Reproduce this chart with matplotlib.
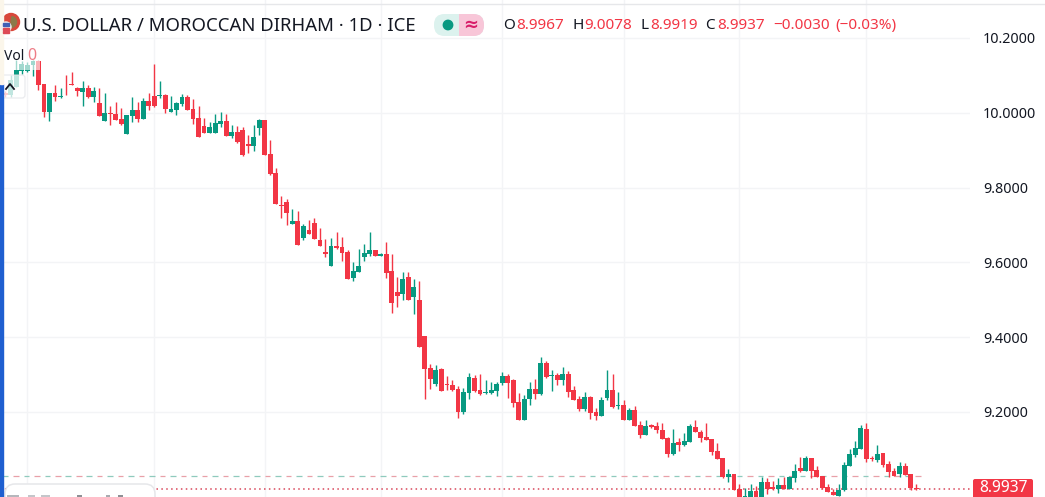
#!/usr/bin/env python3

import matplotlib

matplotlib.use('Agg')

import matplotlib.pyplot as plt
from matplotlib.patches import Circle, FancyBboxPatch, Rectangle, Wedge

W, H = 1045, 497
RED = '#f23645'
GREEN = '#089981'
GRID = '#f3f4f6'
TEXT = '#131722'

# daily candles, oldest first
opens = [10.053, 10.048, 10.070, 10.113, 10.113, 10.128, 10.139, 10.077, 10.003, 10.053,
         10.042, 10.059, 10.077, 10.067, 10.056, 10.066, 10.043, 10.026, 9.979, 9.999,
         9.996, 9.983, 9.944, 9.992, 10.008, 9.984, 10.031, 10.045, 10.045, 10.048,
         10.003, 10.008, 10.024, 10.043, 10.010, 9.985, 9.965, 9.947, 9.947, 9.971,
         9.978, 9.939, 9.948, 9.954, 9.916, 9.910, 9.960, 9.981, 9.890, 9.838,
         9.754, 9.761, 9.703, 9.711, 9.664, 9.687, 9.705, 9.660, 9.627, 9.591,
         9.643, 9.641, 9.628, 9.558, 9.574, 9.615, 9.623, 9.633, 9.617, 9.623,
         9.577, 9.521, 9.516, 9.561, 9.508, 9.500, 9.403, 9.318, 9.275, 9.315,
         9.275, 9.272, 9.262, 9.200, 9.251, 9.291, 9.259, 9.250, 9.251, 9.256,
         9.278, 9.296, 9.286, 9.227, 9.179, 9.235, 9.262, 9.248, 9.331, 9.295,
         9.299, 9.286, 9.302, 9.259, 9.235, 9.208, 9.240, 9.200, 9.189, 9.238,
         9.259, 9.216, 9.219, 9.179, 9.206, 9.165, 9.139, 9.165, 9.163, 9.152,
         9.131, 9.088, 9.120, 9.112, 9.120, 9.160, 9.147, 9.133, 9.128, 9.096,
         9.077, 9.026, 9.034, 8.994, 8.970, 8.962, 8.989, 8.965, 9.013, 8.999,
         8.994, 9.005, 8.994, 9.024, 9.050, 9.042, 9.077, 9.045, 9.029, 9.000,
         8.986, 8.976, 8.991, 9.056, 9.085, 9.101, 9.155, 9.077, 9.072, 9.090,
         9.061, 9.042, 9.034, 9.056, 9.034, 8.9967]
highs = [10.059, 10.101, 10.141, 10.139, 10.137, 10.141, 10.141, 10.078, 10.053, 10.074,
         10.066, 10.101, 10.109, 10.068, 10.085, 10.074, 10.068, 10.066, 10.052, 10.018,
         10.029, 10.012, 9.994, 10.041, 10.030, 10.039, 10.052, 10.130, 10.085, 10.049,
         10.045, 10.030, 10.049, 10.048, 10.037, 10.018, 9.985, 9.975, 9.996, 10.001,
         9.996, 9.967, 9.966, 9.961, 9.941, 9.967, 9.983, 9.982, 9.927, 9.852,
         9.778, 9.770, 9.743, 9.738, 9.703, 9.713, 9.720, 9.693, 9.663, 9.664,
         9.682, 9.669, 9.633, 9.601, 9.636, 9.649, 9.682, 9.634, 9.624, 9.655,
         9.623, 9.562, 9.574, 9.574, 9.556, 9.550, 9.404, 9.328, 9.326, 9.318,
         9.296, 9.286, 9.270, 9.264, 9.304, 9.299, 9.302, 9.286, 9.280, 9.280,
         9.307, 9.302, 9.287, 9.251, 9.246, 9.280, 9.288, 9.347, 9.337, 9.312,
         9.304, 9.320, 9.310, 9.270, 9.243, 9.254, 9.243, 9.211, 9.240, 9.312,
         9.302, 9.254, 9.232, 9.211, 9.216, 9.176, 9.179, 9.167, 9.173, 9.171,
         9.132, 9.155, 9.131, 9.144, 9.168, 9.179, 9.152, 9.171, 9.129, 9.117,
         9.078, 9.048, 9.035, 9.008, 8.997, 9.008, 9.002, 9.026, 9.024, 9.016,
         9.024, 9.026, 9.028, 9.061, 9.080, 9.082, 9.078, 9.056, 9.030, 9.008,
         8.994, 9.008, 9.066, 9.102, 9.122, 9.165, 9.171, 9.082, 9.112, 9.091,
         9.069, 9.050, 9.066, 9.064, 9.035, 9.0078]
lows = [10.043, 10.043, 10.068, 10.104, 10.110, 10.099, 10.061, 9.990, 9.979, 10.032,
        10.040, 10.048, 10.073, 10.045, 10.017, 10.039, 10.030, 9.991, 9.979, 9.967,
        9.981, 9.967, 9.944, 9.976, 9.976, 9.983, 10.008, 10.016, 10.040, 9.999,
        10.002, 9.994, 10.017, 10.007, 9.970, 9.935, 9.946, 9.946, 9.946, 9.963,
        9.938, 9.932, 9.920, 9.885, 9.892, 9.899, 9.941, 9.888, 9.834, 9.756,
        9.718, 9.700, 9.702, 9.646, 9.660, 9.675, 9.662, 9.643, 9.615, 9.590,
        9.637, 9.605, 9.555, 9.550, 9.573, 9.605, 9.617, 9.616, 9.617, 9.558,
        9.464, 9.482, 9.500, 9.499, 9.462, 9.373, 9.235, 9.262, 9.270, 9.255,
        9.259, 9.256, 9.184, 9.195, 9.235, 9.254, 9.246, 9.248, 9.248, 9.243,
        9.272, 9.238, 9.213, 9.178, 9.178, 9.219, 9.235, 9.246, 9.291, 9.256,
        9.272, 9.272, 9.240, 9.231, 9.203, 9.203, 9.181, 9.179, 9.188, 9.232,
        9.211, 9.208, 9.178, 9.178, 9.162, 9.131, 9.138, 9.158, 9.144, 9.127,
        9.080, 9.085, 9.096, 9.109, 9.119, 9.146, 9.120, 9.124, 9.085, 9.073,
        9.024, 9.013, 8.991, 8.955, 8.960, 8.955, 8.955, 8.955, 8.981, 8.992,
        8.984, 8.993, 8.993, 9.013, 9.040, 9.041, 9.024, 9.025, 8.994, 8.985,
        8.977, 8.975, 8.990, 9.055, 9.080, 9.100, 9.066, 9.069, 9.066, 9.053,
        9.026, 9.028, 9.026, 9.031, 8.992, 8.9919]
closes = [10.048, 10.088, 10.115, 10.131, 10.128, 10.139, 10.074, 10.003, 10.053, 10.043,
          10.045, 10.057, 10.074, 10.057, 10.066, 10.042, 10.058, 9.992, 9.999, 9.996,
          9.982, 9.970, 9.993, 10.007, 9.984, 10.032, 10.017, 10.017, 10.048, 10.011,
          10.009, 10.026, 10.043, 10.008, 9.984, 9.936, 9.947, 9.962, 9.972, 9.978,
          9.939, 9.948, 9.921, 9.886, 9.912, 9.935, 9.981, 9.888, 9.836, 9.757,
          9.751, 9.733, 9.711, 9.647, 9.697, 9.676, 9.663, 9.644, 9.623, 9.644,
          9.639, 9.625, 9.556, 9.577, 9.591, 9.625, 9.633, 9.617, 9.623, 9.572,
          9.492, 9.510, 9.556, 9.500, 9.534, 9.374, 9.315, 9.288, 9.312, 9.256,
          9.271, 9.259, 9.200, 9.254, 9.294, 9.256, 9.248, 9.254, 9.259, 9.275,
          9.296, 9.278, 9.224, 9.179, 9.235, 9.262, 9.248, 9.331, 9.294, 9.298,
          9.286, 9.302, 9.254, 9.232, 9.208, 9.240, 9.198, 9.189, 9.232, 9.259,
          9.213, 9.220, 9.179, 9.206, 9.163, 9.139, 9.163, 9.161, 9.152, 9.128,
          9.088, 9.117, 9.112, 9.122, 9.163, 9.147, 9.131, 9.125, 9.093, 9.074,
          9.026, 9.034, 8.992, 8.965, 8.976, 8.989, 8.965, 9.013, 8.994, 8.995,
          9.005, 8.994, 9.027, 9.042, 9.042, 9.077, 9.042, 9.026, 8.997, 8.986,
          8.978, 8.992, 9.058, 9.088, 9.104, 9.157, 9.074, 9.073, 9.088, 9.058,
          9.040, 9.029, 9.056, 9.032, 8.9967, 8.9937]

price_ticks = [10.2, 10.0, 9.8, 9.6, 9.4, 9.2]
month_starts = [4, 27, 47, 68, 90, 112, 133, 156]
last_price = 8.9937
open_line = 9.029

title = 'U.S. DOLLAR / MOROCCAN DIRHAM · 1D · ICE'
ohlc_text = [(503, 'O', TEXT), (516, '8.9967', RED), (572, 'H', TEXT), (584, '9.0078', RED),
             (640, 'L', TEXT), (650, '8.9919', RED), (705, 'C', TEXT), (717, '8.9937', RED),
             (773, '−0.0030', RED), (835, '(−0.03%)', RED)]

plt.rcParams['font.family'] = ['Noto Sans', 'DejaVu Sans']
fig = plt.figure(figsize=(W / 100, H / 100), dpi=100)

ax = fig.add_axes([0, 0, 970 / W, 1])
ax.set_xlim(-0.966, 174.76)
ax.set_ylim(8.9727, 10.3016)
for s in ax.spines.values():
    s.set_visible(False)
ax.yaxis.tick_right()
ax.set_yticks(price_ticks, [f'{p:.4f}' for p in price_ticks])
ax.tick_params(axis='y', length=0, pad=9.3, labelsize=10.3, labelcolor=TEXT)
ax.set_xticks(month_starts, [''] * len(month_starts))
ax.tick_params(axis='x', length=0)
ax.grid(True, color=GRID, lw=1)
ax.set_axisbelow(True)

# session line alternates pink and teal, last price is dotted
n = len(closes)
seg = 0
x0 = -0.5
while x0 < n - 0.5:
    ax.plot([x0, x0 + 1.0], [open_line, open_line], color='#e8a0a8' if seg % 2 else '#8fcabd',
            lw=0.9, zorder=1.5, solid_capstyle='butt')
    x0 += 1.9
    seg += 1
ax.axhline(last_price, color='#d8465a', lw=1.1, ls=(0, (1, 2.2)), zorder=1.5)

for i in range(n):
    color = GREEN if closes[i] >= opens[i] else RED
    ax.vlines(i, lows[i], highs[i], color=color, lw=1.0, zorder=2)
    bottom = min(opens[i], closes[i])
    ax.bar(i, max(abs(closes[i] - opens[i]), 0.002), 0.88, bottom=bottom, color=color, zorder=3)

# everything below is placed in pixels of the screen shot
ov = fig.add_axes([0, 0, 1, 1])
ov.set_xlim(0, W)
ov.set_ylim(H, 0)
ov.axis('off')
ov.patch.set_alpha(0)

ov.plot([0, W], [4, 4], color='#e6e7ea', lw=1)
ov.add_patch(Rectangle((0, 84), 3, H - 84, color='#1f5fd0', zorder=6))
ov.add_patch(Rectangle((0, 0), 3, 84, color='#fbf6ea', zorder=6))

# legend backgrounds wash out the candles behind them
ov.add_patch(Rectangle((0, 50), 40, 20, color='white', alpha=0.62, zorder=4, lw=0))
ov.add_patch(FancyBboxPatch((-6, 75), 31, 23, boxstyle='round,pad=0,rounding_size=3',
                            fc='white', ec='#e3e4e8', lw=0.9, alpha=0.75, zorder=4))
ov.plot([6, 10, 14], [89, 84, 89], color=TEXT, lw=1.3, zorder=5)
ov.text(4, 56, 'Vol', fontsize=10, color=TEXT, va='center', zorder=5)
ov.text(27, 56, '0', fontsize=11.5, color='#ee7d87', va='center', zorder=5)

# flag icon
ov.add_patch(Circle((11, 22), 8.5, color='#d9483b', zorder=5))
ov.add_patch(Wedge((11, 22), 5.5, 280, 80, color='#8c7a4a', zorder=5))
ov.add_patch(Circle((6, 27), 5, color='#f3eef0', zorder=6))
ov.add_patch(Rectangle((2.5, 23), 6, 2.5, color='#3f5fb5', zorder=7))
ov.add_patch(Rectangle((2.5, 28), 6, 1.6, color='#dd4a55', zorder=7))
ov.add_patch(Rectangle((2.5, 31), 6, 1.5, color='#dd4a55', zorder=7))

ov.text(23, 26, title, fontsize=13.35, color=TEXT, va='center', ha='left', zorder=5)

# status pill
ov.add_patch(FancyBboxPatch((434, 14), 50, 22, boxstyle='round,pad=0,rounding_size=10.5',
                            fc='#dcf2ee', ec='none', zorder=4))
pink = FancyBboxPatch((434, 14), 50, 22, boxstyle='round,pad=0,rounding_size=10.5',
                      fc='#f8c6d8', ec='none', zorder=5)
ov.add_patch(pink)
pink.set_clip_path(Rectangle((459, 10), 30, 30, transform=ov.transData))
ov.add_patch(Circle((448, 25), 4.7, color=GREEN, zorder=6))
ov.text(470.5, 25, '≈', fontsize=13, color='#d81e6a', ha='center', va='center', zorder=6,
        family='DejaVu Sans', fontweight='bold')

for x, s, c in ohlc_text:
    ov.text(x, 25.5, s, fontsize=11, color=c, ha='left', va='center', zorder=5)

# price tag on the axis
ov.add_patch(FancyBboxPatch((973, 479), 60, 22, boxstyle='round,pad=0,rounding_size=2',
                            fc=RED, ec='none', zorder=5))
ov.text(1004, 488, f'{last_price:.4f}', fontsize=11.2, color='white', ha='center', va='center',
        fontweight='medium', zorder=6)

# toolbar peeking in at the bottom edge
ov.add_patch(FancyBboxPatch((5, 484), 150, 30, boxstyle='round,pad=0,rounding_size=10',
                            fc='white', ec='#e6e7ea', lw=1.1, zorder=5))
for x, w, c in [(7, 12, '#b5b7bc'), (28, 7, '#c4c6ca'), (41, 9, '#c4c6ca'), (77, 5, '#8e9095'),
                (106, 4, '#a9abb0'), (118, 5, '#8e9095')]:
    ov.add_patch(Rectangle((x, 495), w, 2, color=c, zorder=6, lw=0))

fig.savefig('out.png', dpi=100)
